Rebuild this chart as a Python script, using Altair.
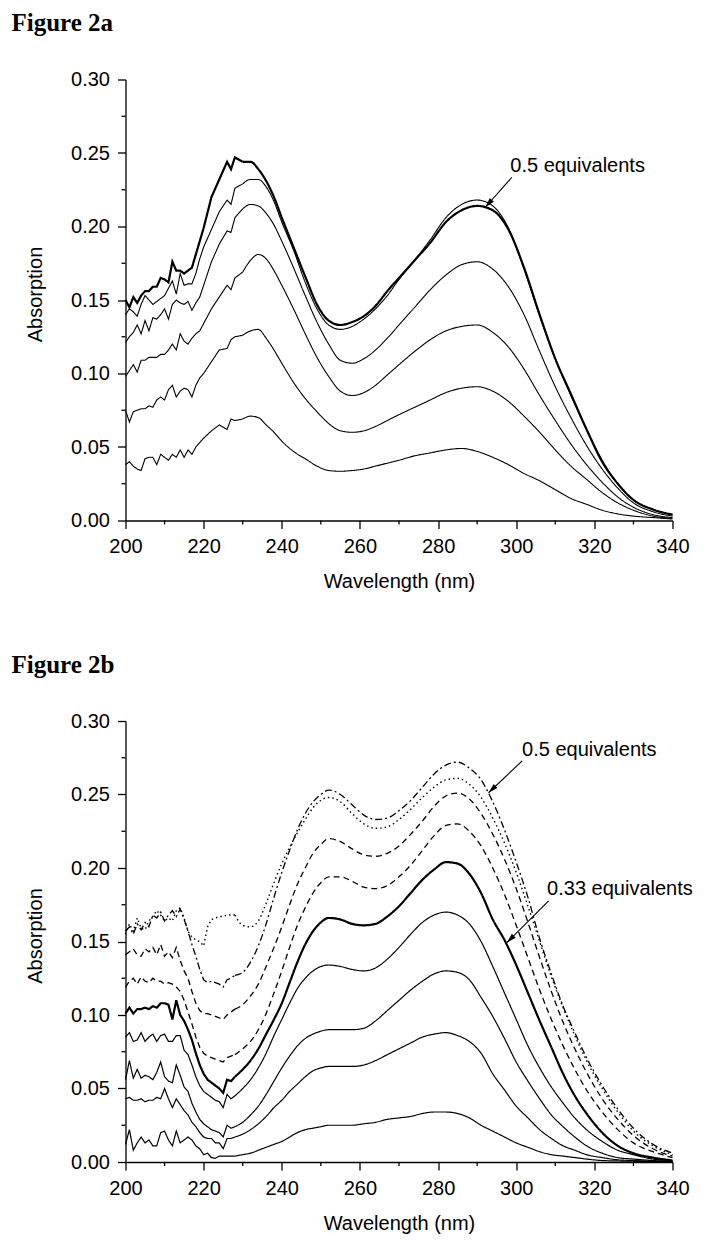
import math
import altair as alt
import pandas as pd

# ---------------- data : Figure 2a ----------------
WL_A = list(range(200, 220)) + [220, 222, 224, 226, 227, 228, 230, 232, 234, 236, 238, 240,
                                 243, 246, 249, 252, 255, 258, 261, 264, 267, 270, 274, 278,
                                 282, 286, 290, 294, 298, 302, 306, 310, 314, 318, 322, 326,
                                 330, 335, 340]

A1 = [.150, .145, .152, .148, .153, .156, .156, .159, .159, .165, .164, .162, .176, .170, .170, .168, .170, .172, .181, .190,
      .199, .220, .232, .244, .239, .247, .244, .244, .239, .231, .220, .206, .186, .166, .147, .136, .133, .135,
      .139, .146, .156, .165, .177, .189, .203, .211, .214, .211, .198, .172, .140, .110, .086, .062, .040, .025,
      .014, .0075, .004]
A2 = [.140, .144, .142, .139, .147, .153, .150, .147, .149, .151, .153, .158, .163, .154, .168, .160, .161, .161, .168, .178,
      .186, .198, .210, .218, .215, .226, .229, .232, .232, .227, .217, .203, .184, .162, .144, .133, .130, .132,
      .137, .144, .153, .164, .177, .191, .206, .215, .218, .214, .199, .171, .139, .110, .085, .062, .041, .025,
      .014, .0075, .004]
A3 = [.121, .125, .128, .133, .127, .136, .129, .138, .137, .140, .144, .137, .147, .150, .148, .147, .149, .143, .148, .152,
      .160, .176, .188, .197, .196, .206, .212, .215, .214, .209, .201, .190, .172, .153, .135, .120, .109, .107,
      .110, .116, .124, .133, .145, .157, .167, .174, .176, .171, .159, .140, .115, .091, .070, .051, .035, .022,
      .012, .006, .003]
A4 = [.098, .102, .106, .101, .109, .109, .111, .111, .111, .113, .113, .116, .120, .116, .127, .122, .120, .124, .127, .129,
      .134, .144, .152, .160, .157, .165, .169, .177, .181, .178, .170, .160, .144, .127, .111, .098, .088, .085,
      .087, .092, .099, .106, .115, .123, .129, .132, .133, .128, .118, .103, .085, .068, .052, .038, .026, .016,
      .009, .004, .002]
A5 = [.075, .067, .074, .075, .076, .076, .078, .077, .082, .084, .082, .089, .092, .084, .088, .090, .089, .084, .092, .097,
      .100, .108, .116, .117, .123, .125, .126, .129, .130, .124, .116, .107, .094, .083, .074, .066, .061, .060,
      .061, .064, .068, .072, .077, .082, .087, .090, .091, .088, .081, .071, .060, .048, .037, .028, .019, .012,
      .007, .003, .0015]
A6 = [.038, .040, .037, .035, .034, .042, .043, .043, .038, .045, .043, .041, .045, .043, .048, .043, .048, .045, .050, .053,
      .056, .061, .065, .062, .069, .068, .069, .071, .070, .065, .060, .054, .047, .042, .037, .034, .0335, .034,
      .035, .037, .039, .041, .044, .046, .048, .049, .047, .043, .038, .032, .027, .021, .015, .011, .007, .0045,
      .003, .002, .001]

# ---------------- data : Figure 2b ----------------
WL_B = list(range(200, 228)) + [228, 230, 232, 234, 236, 238, 240, 242, 244, 246, 248, 250, 252,
                                 255, 258, 261, 264, 267, 270, 273, 276, 279, 282, 285, 288, 291,
                                 294, 297, 300, 303, 306, 309, 312, 315, 318, 322, 326, 330, 335, 340]

B1 = [.157, .160, .155, .162, .158, .163, .160, .168, .166, .170, .164, .168, .171, .167, .172, .165, .157, .148, .140, .131,
      .124, .122, .123, .122, .121, .119, .124, .125,
      .127, .129, .136, .147, .162, .180, .197, .212, .226, .237, .245, .250, .253,
      .250, .243, .236, .233, .234, .239, .246, .255, .264, .270, .272, .268, .260, .245, .226, .204, .180, .152,
      .128, .106, .088, .071, .052, .036, .023, .012, .006]
B2 = [.155, .162, .157, .166, .159, .158, .164, .167, .171, .168, .164, .166, .164, .171, .173, .166, .157, .153, .151, .150,
      .147, .160, .165, .166, .167, .167, .168, .168,
      .168, .161, .160, .164, .176, .190, .203, .214, .224, .233, .241, .246, .248,
      .245, .237, .230, .227, .228, .233, .240, .248, .255, .260, .261, .257, .248, .234, .217, .197, .174, .150,
      .126, .105, .086, .069, .050, .034, .021, .011, .005]
B3 = [.141, .143, .145, .141, .140, .145, .143, .146, .141, .148, .140, .143, .139, .146, .137, .130, .125, .116, .108, .103,
      .101, .101, .100, .099, .098, .097, .100, .102,
      .104, .107, .113, .121, .133, .146, .160, .175, .189, .200, .210, .216, .220,
      .218, .213, .209, .208, .210, .215, .223, .232, .242, .249, .251, .247, .237, .223, .206, .186, .163, .139,
      .116, .095, .077, .061, .043, .029, .018, .009, .004]
B4 = [.119, .123, .125, .121, .126, .123, .122, .125, .123, .123, .121, .122, .121, .119, .116, .110, .102, .094, .085, .078,
      .074, .072, .071, .070, .069, .068, .071, .072,
      .073, .077, .082, .090, .101, .115, .130, .146, .161, .173, .183, .190, .194,
      .194, .191, .187, .186, .188, .194, .202, .212, .222, .229, .230, .225, .215, .200, .182, .161, .139, .117,
      .097, .079, .063, .049, .034, .022, .013, .007, .003]
B5 = [.101, .105, .101, .104, .104, .105, .104, .106, .105, .108, .108, .107, .097, .110, .100, .096, .090, .083, .074, .066,
      .060, .056, .054, .052, .050, .047, .056, .055,
      .058, .063, .069, .077, .087, .097, .108, .122, .136, .148, .157, .163, .166,
      .165, .162, .161, .162, .167, .174, .183, .192, .199, .204, .203, .196, .183, .165, .151, .134, .115, .096,
      .078, .060, .045, .033, .020, .011, .006, .003, .001]
B6 = [.085, .088, .082, .083, .088, .082, .085, .087, .082, .086, .087, .082, .082, .086, .086, .076, .073, .066, .058, .052,
      .048, .046, .044, .042, .041, .037, .046, .043,
      .045, .050, .056, .064, .074, .086, .097, .108, .118, .125, .130, .133, .134,
      .133, .131, .130, .132, .138, .146, .155, .163, .168, .170, .168, .162, .150, .133, .115, .097, .079, .064,
      .051, .040, .030, .022, .014, .008, .005, .002, .001]
B7 = [.056, .069, .057, .063, .057, .059, .058, .056, .061, .068, .058, .055, .054, .066, .059, .051, .048, .040, .034, .029,
      .026, .024, .022, .021, .020, .017, .025, .023,
      .024, .027, .032, .038, .046, .055, .064, .072, .079, .084, .087, .089, .090,
      .090, .090, .091, .096, .103, .110, .117, .123, .128, .130, .129, .124, .112, .099, .084, .068, .055, .043,
      .032, .024, .017, .011, .006, .003, .002, .001, .0005]
B8 = [.043, .044, .042, .042, .043, .041, .042, .042, .044, .043, .050, .043, .037, .043, .039, .035, .032, .027, .024, .020,
      .017, .016, .016, .013, .013, .009, .016, .016,
      .017, .019, .022, .026, .031, .037, .042, .048, .053, .058, .062, .064, .065,
      .065, .065, .066, .069, .073, .077, .081, .085, .087, .088, .086, .082, .074, .060, .049, .038, .030, .022,
      .016, .011, .008, .005, .003, .0015, .001, .0005, .0003]
B9 = [.012, .022, .008, .013, .017, .013, .015, .011, .011, .020, .021, .015, .011, .021, .013, .015, .017, .015, .011, .009,
      .005, .006, .003, .0025, .004, .004, .004, .004,
      .004, .005, .006, .008, .010, .012, .014, .017, .020, .022, .023, .024, .025,
      .025, .025, .026, .027, .029, .030, .031, .033, .034, .034, .033, .030, .025, .021, .017, .013, .010, .007,
      .005, .004, .003, .002, .001, .0007, .0005, .0003, .0002]

# curve styles
STYLE_NAMES = ["solid", "dash", "dot", "dashdot"]
STYLE_DASHES = [[1, 0], [6, 4], [1.5, 3], [7, 3, 2, 3]]

A_CURVES = [A1, A2, A3, A4, A5, A6]
A_STYLE = ["solid"] * 6
A_WIDTH = [2.2, 1.1, 1.1, 1.1, 1.1, 1.1]
A_NOISY_END = 230   # measured noise (drawn with straight segments) up to here

B_CURVES = [B1, B2, B3, B4, B5, B6, B7, B8, B9]
B_STYLE = ["dashdot", "dot", "dash", "dash", "solid", "solid", "solid", "solid", "solid"]
B_WIDTH = [1.3, 1.4, 1.3, 1.3, 2.2, 1.2, 1.2, 1.2, 1.2]
B_NOISY_END = 228

# axis ticks
X_TICKS = [200, 220, 240, 260, 280, 300, 320, 340]
X_MINOR = [210, 230, 250, 270, 290, 310, 330]
Y_TICKS = [0.0, 0.05, 0.10, 0.15, 0.20, 0.25, 0.30]
Y_MINOR = [0.025, 0.075, 0.125, 0.175, 0.225, 0.275]

# annotations (label, text x, text y, arrow start x/y, arrow tip x/y)
A_ANN_LABEL = ["0.5 equivalents"]
A_ANN_TX = [298.5]
A_ANN_TY = [0.2374]
A_ANN_X0 = [298.9]
A_ANN_Y0 = [0.2335]
A_ANN_X1 = [292.1]
A_ANN_Y1 = [0.2131]

B_ANN_LABEL = ["0.5 equivalents", "0.33 equivalents"]
B_ANN_TX = [301.5, 307.9]
B_ANN_TY = [0.2762, 0.1814]
B_ANN_X0 = [301.5, 308.3]
B_ANN_Y0 = [0.2728, 0.1776]
B_ANN_X1 = [292.9, 297.6]
B_ANN_Y1 = [0.2512, 0.1492]

W, H = 547, 441
FONT = "Liberation Sans"

X_AXIS = alt.Axis(values=X_TICKS, format="d", title="Wavelength (nm)", labelFlush=False,
                  labelOverlap=False, tickSize=8, labelPadding=8, titleX=W / 2, titleY=67,
                  titleBaseline="alphabetic", grid=False)
Y_AXIS = alt.Axis(values=Y_TICKS, format=".2f", title="Absorption", labelOverlap=False,
                  tickSize=8, labelPadding=8, titleX=-84, titleY=H / 2 - 6,
                  titleBaseline="alphabetic", titleAngle=270, grid=False)

XS = alt.Scale(domain=[200, 340], nice=False, zero=False)
YS = alt.Scale(domain=[0, 0.30], nice=False, zero=False)


def curve_layer(df, interp):
    return alt.Chart(df).mark_line(interpolate=interp, color="black").encode(
        x=alt.X("wl:Q", scale=XS, axis=X_AXIS),
        y=alt.Y("absorb:Q", scale=YS, axis=Y_AXIS),
        detail="curve:N",
        strokeDash=alt.StrokeDash("style:N", scale=alt.Scale(domain=STYLE_NAMES, range=STYLE_DASHES),
                                  legend=None),
        strokeWidth=alt.StrokeWidth("w:Q", scale=None, legend=None),
    )


def panel(title, wl, curves, styles, widths, noisy_end, labels, tx, ty, x0, y0, x1, y1):
    rows = []
    for i, (vals, st, w) in enumerate(zip(curves, styles, widths)):
        for x, y in zip(wl, vals):
            rows.append({"curve": f"c{i}", "wl": x, "absorb": y, "style": st, "w": w})
    df = pd.DataFrame(rows)

    noisy = curve_layer(df[df["wl"] <= noisy_end], "linear")
    smooth = curve_layer(df[df["wl"] >= noisy_end], "monotone")

    minor_x = alt.Chart(pd.DataFrame({"t": X_MINOR})).mark_rule(color="black", strokeWidth=1.3).encode(
        x=alt.X("t:Q", scale=XS, axis=X_AXIS), y=alt.value(H), y2=alt.value(H + 4))
    minor_y = alt.Chart(pd.DataFrame({"t": Y_MINOR})).mark_rule(color="black", strokeWidth=1.3).encode(
        y=alt.Y("t:Q", scale=YS, axis=Y_AXIS), x=alt.value(0), x2=alt.value(-4))

    # arrow head direction in screen pixels
    angs = []
    for a, b, c, d in zip(x0, y0, x1, y1):
        dx = (c - a) * W / 140.0
        dy = -(d - b) * H / 0.30
        angs.append((math.degrees(math.atan2(dx, -dy)) + 360) % 360)
    ann = pd.DataFrame({"label": labels, "tx": tx, "ty": ty, "x0": x0, "y0": y0,
                        "x1": x1, "y1": y1, "ang": angs})
    text = alt.Chart(ann).mark_text(align="left", baseline="alphabetic", font=FONT, fontSize=20,
                                    color="black").encode(
        x=alt.X("tx:Q", scale=XS, axis=X_AXIS), y=alt.Y("ty:Q", scale=YS, axis=Y_AXIS), text="label:N")
    arrow = alt.Chart(ann).mark_rule(color="black", strokeWidth=1.1).encode(
        x=alt.X("x0:Q", scale=XS, axis=X_AXIS), y=alt.Y("y0:Q", scale=YS, axis=Y_AXIS),
        x2="x1:Q", y2="y1:Q")
    head = alt.Chart(ann).mark_point(shape="M0,0L-0.45,1.6L0.45,1.6Z", filled=True, size=150,
                                     color="black", opacity=1, strokeWidth=0).encode(
        x=alt.X("x1:Q", scale=XS, axis=X_AXIS), y=alt.Y("y1:Q", scale=YS, axis=Y_AXIS),
        angle=alt.Angle("ang:Q", scale=None))

    ttl = alt.Chart(pd.DataFrame({"t": [title]})).mark_text(
        align="left", baseline="alphabetic", font="Liberation Serif", fontSize=25, fontWeight="bold",
        color="black").encode(x=alt.value(-114), y=alt.value(-48.5), text="t:N")

    return alt.layer(noisy, smooth, minor_x, minor_y, arrow, head, text, ttl).properties(width=W, height=H)


pa = panel("Figure 2a", WL_A, A_CURVES, A_STYLE, A_WIDTH, A_NOISY_END, A_ANN_LABEL, A_ANN_TX,
           A_ANN_TY, A_ANN_X0, A_ANN_Y0, A_ANN_X1, A_ANN_Y1)
pb = panel("Figure 2b", WL_B, B_CURVES, B_STYLE, B_WIDTH, B_NOISY_END, B_ANN_LABEL, B_ANN_TX,
           B_ANN_TY, B_ANN_X0, B_ANN_Y0, B_ANN_X1, B_ANN_Y1)

chart = alt.vconcat(pa, pb, spacing=60.5).properties(
    padding={"left": 3.5, "top": 2.5, "right": 0, "bottom": 0}, background="white"
).configure_axis(
    domainColor="black", domainWidth=1.3, tickColor="black", tickWidth=1.3,
    labelColor="black", titleColor="black", labelFont=FONT, titleFont=FONT,
    labelFontSize=20, titleFontSize=20, titleFontWeight="normal", grid=False
).configure_view(strokeWidth=0)

chart.save("out.html", embed_options={"renderer": "svg", "actions": False})
